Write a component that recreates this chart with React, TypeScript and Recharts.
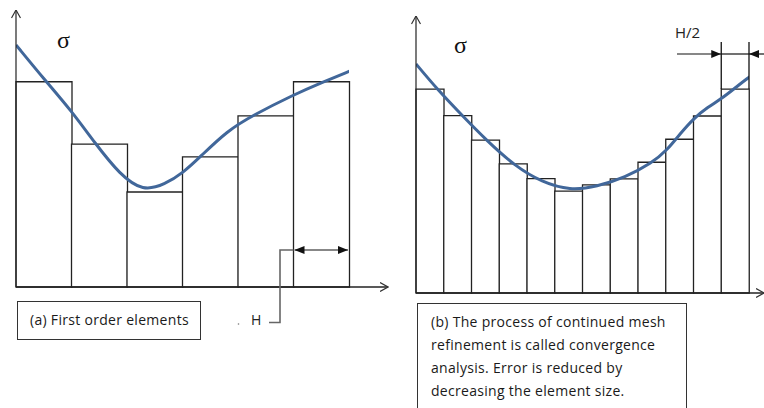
import React from 'react';
import { ComposedChart, Bar, Line, XAxis, YAxis } from 'recharts';

// ---- data ----
const leftElements = ['1', '2', '3', '4', '5', '6'];
const leftStress = [74.1, 51.6, 34.3, 47.0, 61.8, 74.1];
const leftCurveX = [0, 0.52, 0.99, 1.42, 1.87, 2.29, 2.68, 3.01, 3.32, 3.8, 4.27, 4.99, 5.53, 6.02];
const leftCurveY = [87.4, 74.7, 63.8, 52.0, 40.6, 34.5, 37.0, 41.2, 47.0, 56.3, 62.0, 69.3, 74.0, 78.0];

const rightElements = ['1', '2', '3', '4', '5', '6', '7', '8', '9', '10', '11', '12'];
const rightStress = [73.6, 64.0, 55.2, 46.6, 41.3, 36.8, 39.0, 41.2, 47.2, 55.5, 63.9, 73.6];
const rightCurveX = [0, 0.76, 1.66, 2.56, 3.57, 4.54, 5.55, 6.52, 7.53, 8.5, 9.05, 9.51, 10.02, 10.52, 10.99, 11.5, 12.0, 12.36];
const rightCurveY = [82.7, 73.6, 64.1, 54.9, 45.8, 40.0, 37.0, 38.4, 41.7, 46.9, 51.6, 57.4, 63.2, 67.1, 70.0, 74.0, 78.0, 80.1];

const captionA = '(a) First order elements';
const captionB = [
  '(b) The process of continued mesh',
  'refinement is called convergence',
  'analysis. Error is reduced by',
  'decreasing the element size.',
];
const sizeLabelA = 'H';
const sizeLabelB = 'H/2';
const yLabel = 'σ';

const leftBars = leftElements.map((e, i) => ({ e, v: leftStress[i] }));
const rightBars = rightElements.map((e, i) => ({ e, v: rightStress[i] }));
const leftCurve = leftCurveX.map((x, i) => ({ x, v: leftCurveY[i] }));
const rightCurve = rightCurveX.map((x, i) => ({ x, v: rightCurveY[i] }));

// ---- style ----
const CURVE = '#41679a';
const INK = '#222';
const textFont = '"Open Sans", "Noto Sans", sans-serif';

function Panel(props: {
  bars: { e: string; v: number }[];
  curve: { x: number; v: number }[];
  n: number;
  width: number;
  margin: { top: number; right: number; bottom: number; left: number };
  padRight: number;
}) {
  const { bars, curve, n, width, margin, padRight } = props;
  return (
    <ComposedChart
      width={width}
      height={300}
      data={bars}
      margin={margin}
      barCategoryGap={0}
      barGap={0}
    >
      <XAxis
        xAxisId="bars"
        dataKey="e"
        type="category"
        height={1}
        tick={false}
        tickLine={false}
        padding={{ left: 0, right: padRight }}
        axisLine={{ stroke: INK, strokeWidth: 1.4, markerEnd: 'url(#openArrow)' } as any}
      />
      <XAxis
        xAxisId="curve"
        dataKey="x"
        type="number"
        domain={[0, n]}
        allowDataOverflow
        hide
        padding={{ left: 0, right: padRight }}
      />
      <YAxis
        domain={[0, 100]}
        width={1}
        tick={false}
        tickLine={false}
        axisLine={{ stroke: INK, strokeWidth: 1.2, markerStart: 'url(#openArrow)' } as any}
      />
      <Bar
        xAxisId="bars"
        dataKey="v"
        fill="#fff"
        stroke={INK}
        strokeWidth={1.3}
        isAnimationActive={false}
      />
      <Line
        xAxisId="curve"
        data={curve}
        dataKey="v"
        type="basis"
        stroke={CURVE}
        strokeWidth={3}
        dot={false}
        activeDot={false}
        isAnimationActive={false}
      />
    </ComposedChart>
  );
}

export default function App() {
  // left panel geometry (pixels)
  const lx0 = 16;
  const lBand = 333 / 6;
  const lEdge5 = lx0 + 5 * lBand;
  const lEdge6 = lx0 + 6 * lBand;
  // right panel geometry
  const rx0 = 416;
  const rBand = 333 / 12;
  const rEdge11 = rx0 + 11 * rBand;
  const rEdge12 = rx0 + 12 * rBand;

  return (
    <div
      style={{
        position: 'absolute',
        left: 0,
        top: 0,
        width: 764,
        height: 408,
        overflow: 'hidden',
        background: '#fff',
      }}
    >
      <svg width={0} height={0} style={{ position: 'absolute' }}>
        <defs>
          <marker
            id="openArrow"
            viewBox="0 0 9 10"
            refX={8.5}
            refY={5}
            markerWidth={9}
            markerHeight={10}
            markerUnits="userSpaceOnUse"
            orient="auto-start-reverse"
          >
            <path d="M0.5,0.5 L8.5,5 L0.5,9.5" fill="none" stroke="#333" strokeWidth={1.2} />
          </marker>
          <marker
            id="solidArrow"
            viewBox="0 0 10 8"
            refX={10}
            refY={4}
            markerWidth={10}
            markerHeight={8}
            markerUnits="userSpaceOnUse"
            orient="auto-start-reverse"
          >
            <path d="M0,0 L10,4 L0,8 Z" fill="#111" />
          </marker>
        </defs>
      </svg>

      <div style={{ position: 'absolute', left: 0, top: 0 }}>
        <Panel
          bars={leftBars}
          curve={leftCurve}
          n={6}
          width={400}
          margin={{ top: 10, right: 12, bottom: 12, left: 15 }}
          padRight={39}
        />
      </div>
      <div style={{ position: 'absolute', left: 400, top: 0 }}>
        <Panel
          bars={rightBars}
          curve={rightCurve}
          n={12}
          width={364}
          margin={{ top: 16, right: 0, bottom: 6, left: 15 }}
          padRight={15}
        />
      </div>

      <svg
        width={764}
        height={408}
        style={{ position: 'absolute', left: 0, top: 0, pointerEvents: 'none' }}
      >
        <text x={57} y={48} fontFamily='"Liberation Serif", serif' fontSize={24} fill="#111">
          {yLabel}
        </text>
        <text x={454} y={53} fontFamily='"Liberation Serif", serif' fontSize={24} fill="#111">
          {yLabel}
        </text>

        {/* H dimension (left) */}
        <line
          x1={lEdge5 + 1}
          y1={250}
          x2={lEdge6 - 1}
          y2={250}
          stroke="#111"
          strokeWidth={1.2}
          markerStart="url(#solidArrow)"
          markerEnd="url(#solidArrow)"
        />
        <path
          d={`M${lEdge5},250 L280,250 L280,322.5 L269,322.5`}
          fill="none"
          stroke="#666"
          strokeWidth={1.6}
        />
        <text x={251} y={325} fontFamily={textFont} fontSize={14} fill="#222">
          {sizeLabelA}
        </text>
        <circle cx={238.5} cy={324} r={0.8} fill="#777" />

        {/* H/2 dimension (right) */}
        <line x1={rEdge11} y1={42} x2={rEdge11} y2={89} stroke="#111" strokeWidth={1.3} />
        <line x1={rEdge12} y1={42} x2={rEdge12} y2={89} stroke="#111" strokeWidth={1.3} />
        <line x1={rEdge11} y1={54} x2={rEdge12} y2={54} stroke="#111" strokeWidth={1.2} />
        <line
          x1={677}
          y1={54}
          x2={rEdge11}
          y2={54}
          stroke="#111"
          strokeWidth={1.2}
          markerEnd="url(#solidArrow)"
        />
        <line
          x1={766}
          y1={54}
          x2={rEdge12}
          y2={54}
          stroke="#111"
          strokeWidth={1.2}
          markerEnd="url(#solidArrow)"
        />
        <text x={675} y={38} fontFamily={textFont} fontSize={15} fill="#222">
          {sizeLabelB}
        </text>
      </svg>

      <div
        style={{
          position: 'absolute',
          left: 17,
          top: 301,
          width: 184,
          height: 39,
          border: '1.3px solid #333',
          fontFamily: textFont,
          fontSize: 14,
          letterSpacing: 0.3,
          color: '#1a1a1a',
          lineHeight: '36px',
          paddingLeft: 12,
          boxSizing: 'border-box',
          whiteSpace: 'nowrap',
          overflow: 'hidden',
        }}
      >
        {captionA}
      </div>

      <div
        style={{
          position: 'absolute',
          left: 417,
          top: 303,
          width: 270,
          height: 130,
          border: '1.3px solid #333',
          fontFamily: textFont,
          fontSize: 14,
          letterSpacing: 0.3,
          color: '#1a1a1a',
          lineHeight: '23px',
          paddingLeft: 13,
          paddingTop: 6,
          boxSizing: 'border-box',
          whiteSpace: 'nowrap',
        }}
      >
        {captionB.map((l, i) => (
          <div key={i}>{l}</div>
        ))}
      </div>
    </div>
  );
}
